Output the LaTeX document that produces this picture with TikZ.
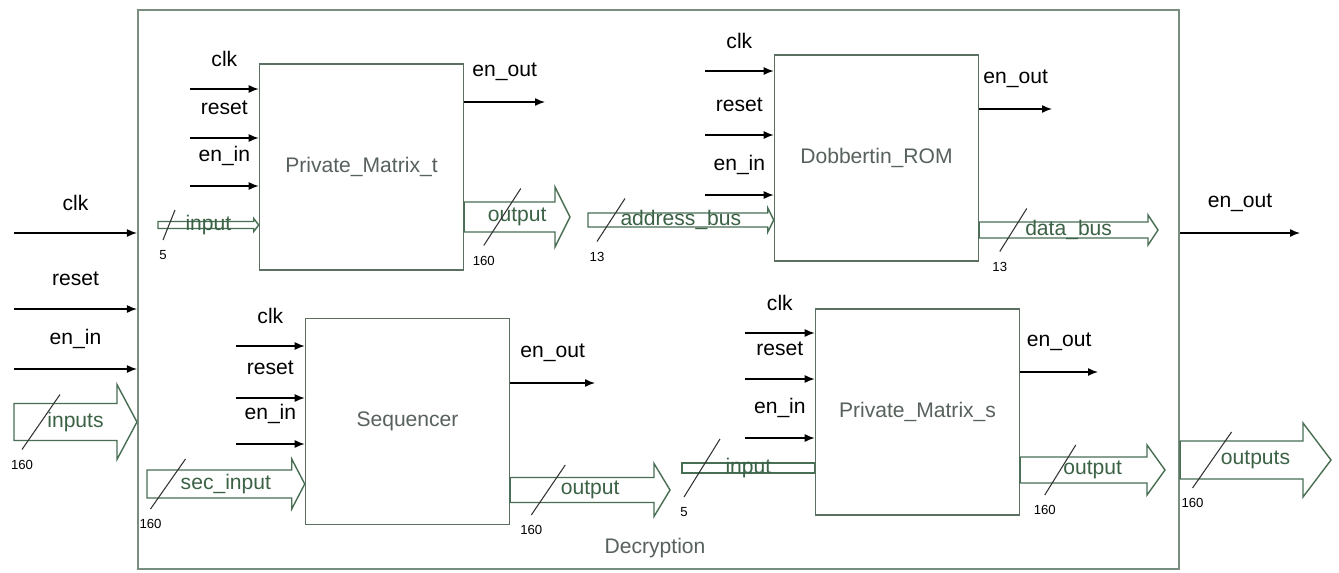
\documentclass[tikz,border=0pt]{standalone}
\usepackage{fontspec}
\setmainfont{Liberation Sans}
\usetikzlibrary{positioning,arrows.meta,calc}
\definecolor{dFrame}{RGB}{122,142,128}
\definecolor{dBox}{RGB}{92,112,98}
\definecolor{dBus}{RGB}{72,110,84}
\definecolor{dBusTxt}{RGB}{60,98,70}
\definecolor{dBlkTxt}{RGB}{88,98,92}
\tikzset{
  frame/.style={rectangle, draw=dFrame, line width=1.3pt, minimum width=20.82cm,
                minimum height=11.18cm, inner sep=0pt},
  blk/.style={rectangle, draw=dBox, line width=0.9pt, fill=white, minimum width=4.08cm,
              minimum height=4.12cm, font=\fontsize{12}{14}\selectfont, text=dBlkTxt},
  sig/.style={-{Latex[length=2mm,width=1.6mm]}, line width=0.8pt, black},
  lbl/.style={font=\fontsize{12}{14}\selectfont, inner sep=0pt},
  busline/.style={draw=dBus, line width=0.8pt, fill=white},
  bustxt/.style={font=\fontsize{12}{14}\selectfont, text=dBusTxt, inner sep=0pt},
  tick/.style={draw=black!80, line width=0.6pt},
  wlbl/.style={font=\fontsize{7.5}{9}\selectfont, inner sep=0pt},
}
% bus arrow: start, tip, half body, half head, head length, text
\newcommand{\Bus}[6]{%
  \draw[busline] ($(#1)+(0,-#3)$) -- ($(#2)+(-#5,-#3)$) -- ($(#2)+(-#5,-#4)$) -- (#2)
    -- ($(#2)+(-#5,#4)$) -- ($(#2)+(-#5,#3)$) -- ($(#1)+(0,#3)$) -- cycle;
  \node[bustxt] (#1-txt) at ($(#1)!0.5!(#2)$) {#6};}
% width slash on a bus: start, offset, half dx, half dy, width
\newcommand{\BusTick}[5]{%
  \draw[tick] ($(#1)+(#2-#3,#4)$) -- ($(#1)+(#2+#3,-#4)$);
  \node[wlbl] (#1-w) at ($(#1)+(#2-#3,#4+15)$) {#5};}

\begin{document}
\begin{tikzpicture}[x=0.02cm, y=-0.02cm]
  \path[use as bounding box, fill=white] (0,0) rectangle (1339,572);

  % outer block
  \node[frame] (dec) at (658.5,289.5) {};
  \node[lbl, text=dBlkTxt] (dec-name) at (655,548) {Decryption};

  % sub blocks
  \node[blk] (pmt) at (361.5,167) {Private\_Matrix\_t};
  \node[blk] (rom) at (876.5,158) {Dobbertin\_ROM};
  \node[blk] (seq) at (407.5,421.5) {Sequencer};
  \node[blk] (pms) at (917.5,412) {Private\_Matrix\_s};

  % top level inputs
  \coordinate (clk-in) at (14,233);
  \coordinate (rst-in) at (14,309);
  \coordinate (en-in) at (14,369);
  \draw[sig] (clk-in) -- (clk-in -| dec.west) node[lbl, midway, yshift=6mm] (clk-l) {clk};
  \draw[sig] (rst-in) -- (rst-in -| dec.west) node[lbl, midway, yshift=6mm] (rst-l) {reset};
  \draw[sig] (en-in) -- (en-in -| dec.west) node[lbl, midway, yshift=6mm] (en-l) {en\_in};
  \coordinate (inp) at (14,422);
  \coordinate (inp-e) at (inp -| dec.west);
  \Bus{inp}{inp-e}{18.5}{37.5}{20}{inputs}
  \BusTick{inp}{27}{19}{27.5}{160}

  % top level outputs
  \coordinate (eo-out) at (1300,233);
  \draw[sig] (eo-out -| dec.east) -- (eo-out) node[lbl, midway, yshift=6mm] (eo-l) {en\_out};
  \coordinate (outs-e) at (1331,460);
  \coordinate (outs) at (outs-e -| dec.east);
  \Bus{outs}{outs-e}{19}{37}{28}{outputs}
  \BusTick{outs}{32}{19.5}{28}{160}

  % Private_Matrix_t
  \coordinate (pmt-c) at (190,89);
  \coordinate (pmt-r) at (190,138);
  \coordinate (pmt-e) at (190,186);
  \draw[sig] (pmt-c) -- (pmt-c -| pmt.west) node[lbl, midway, yshift=6mm] (pmt-cl) {clk};
  \draw[sig] (pmt-r) -- (pmt-r -| pmt.west) node[lbl, midway, yshift=6mm] (pmt-rl) {reset};
  \draw[sig] (pmt-e) -- (pmt-e -| pmt.west) node[lbl, midway, yshift=6mm] (pmt-el) {en\_in};
  \coordinate (pmt-bi) at (158,225);
  \coordinate (pmt-bie) at (pmt-bi -| pmt.west);
  \Bus{pmt-bi}{pmt-bie}{3.5}{6.5}{5}{input}
  \BusTick{pmt-bi}{11}{6}{15}{5}
  \coordinate (pmt-eo) at (545,102);
  \draw[sig] (pmt-eo -| pmt.east) -- (pmt-eo) node[lbl, midway, yshift=6mm] (pmt-eol) {en\_out};
  \coordinate (pmt-boe) at (570,217);
  \coordinate (pmt-bo) at (pmt-boe -| pmt.east);
  \Bus{pmt-bo}{pmt-boe}{15}{30}{15}{output}
  \BusTick{pmt-bo}{38}{18.5}{28.5}{160}

  % Dobbertin_ROM
  \coordinate (rom-c) at (705,71);
  \coordinate (rom-r) at (705,135);
  \coordinate (rom-e) at (705,195);
  \draw[sig] (rom-c) -- (rom-c -| rom.west) node[lbl, midway, yshift=6mm] (rom-cl) {clk};
  \draw[sig] (rom-r) -- (rom-r -| rom.west) node[lbl, midway, yshift=6mm] (rom-rl) {reset};
  \draw[sig] (rom-e) -- (rom-e -| rom.west) node[lbl, midway, yshift=6mm] (rom-el) {en\_in};
  \coordinate (rom-bi) at (588,220);
  \coordinate (rom-bie) at (rom-bi -| rom.west);
  \Bus{rom-bi}{rom-bie}{7}{12}{6}{address\_bus}
  \BusTick{rom-bi}{23}{14}{21.5}{13}
  \coordinate (rom-eo) at (1052,109);
  \draw[sig] (rom-eo -| rom.east) -- (rom-eo) node[lbl, midway, yshift=6mm] (rom-eol) {en\_out};
  \coordinate (rom-boe) at (1158,230);
  \coordinate (rom-bo) at (rom-boe -| rom.east);
  \Bus{rom-bo}{rom-boe}{8}{15}{10}{data\_bus}
  \BusTick{rom-bo}{34}{13.5}{21.5}{13}

  % Sequencer
  \coordinate (seq-c) at (236,346);
  \coordinate (seq-r) at (236,398);
  \coordinate (seq-e) at (236,444);
  \draw[sig] (seq-c) -- (seq-c -| seq.west) node[lbl, midway, yshift=6mm] (seq-cl) {clk};
  \draw[sig] (seq-r) -- (seq-r -| seq.west) node[lbl, midway, yshift=6mm] (seq-rl) {reset};
  \draw[sig] (seq-e) -- (seq-e -| seq.west) node[lbl, midway, yshift=6mm] (seq-el) {en\_in};
  \coordinate (seq-bi) at (147,484);
  \coordinate (seq-bie) at (seq-bi -| seq.west);
  \Bus{seq-bi}{seq-bie}{14}{25}{13}{sec\_input}
  \BusTick{seq-bi}{21}{17.5}{25}{160}
  \coordinate (seq-eo) at (595,383);
  \draw[sig] (seq-eo -| seq.east) -- (seq-eo) node[lbl, midway, yshift=6mm] (seq-eol) {en\_out};
  \coordinate (seq-boe) at (670,490);
  \coordinate (seq-bo) at (seq-boe -| seq.east);
  \Bus{seq-bo}{seq-boe}{12.5}{26.5}{16}{output}
  \BusTick{seq-bo}{38}{17}{25}{160}

  % Private_Matrix_s
  \coordinate (pms-c) at (745,333);
  \coordinate (pms-r) at (745,379);
  \coordinate (pms-e) at (745,438);
  \draw[sig] (pms-c) -- (pms-c -| pms.west) node[lbl, midway, yshift=6mm] (pms-cl) {clk};
  \draw[sig] (pms-r) -- (pms-r -| pms.west) node[lbl, midway, yshift=6mm] (pms-rl) {reset};
  \draw[sig] (pms-e) -- (pms-e -| pms.west) node[lbl, midway, yshift=6mm] (pms-el) {en\_in};
  \coordinate (pms-bi) at (682,468);
  \coordinate (pms-bie) at (pms-bi -| pms.west);
  \Bus{pms-bi}{pms-bie}{5}{5}{0}{input}
  \BusTick{pms-bi}{20}{18}{29}{5}
  \coordinate (pms-eo) at (1098,372);
  \draw[sig] (pms-eo -| pms.east) -- (pms-eo) node[lbl, midway, yshift=6mm] (pms-eol) {en\_out};
  \coordinate (pms-boe) at (1165,470);
  \coordinate (pms-bo) at (pms-boe -| pms.east);
  \Bus{pms-bo}{pms-boe}{13}{25}{18}{output}
  \BusTick{pms-bo}{40}{15.5}{25}{160}
\end{tikzpicture}
\end{document}
